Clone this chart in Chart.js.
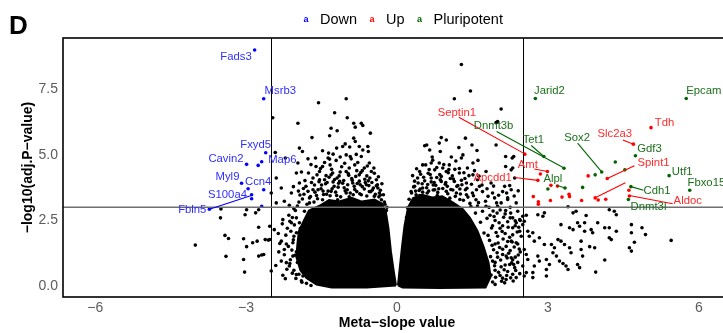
<!DOCTYPE html>
<html>
<head>
<meta charset="utf-8">
<script src="https://cdn.jsdelivr.net/npm/chart.js@4.4.0/dist/chart.umd.min.js"></script>
<style>
html, body { margin: 0; padding: 0; background: #fff; overflow: hidden; }
#wrap { width: 723px; height: 333px; overflow: hidden; }
canvas { display: block; }
</style>
</head>
<body>
<div id="wrap"><canvas id="volcano" width="806" height="333"></canvas></div>
<script>
// Volcano plot: meta-slope vs -log10(adj. P)
const groups = ['Down', 'Up', 'Pluripotent'];
const groupColors = ['#0000ff', '#ff0000', '#006400'];
const textColors = ['#2f2fff', '#ff2a2a', '#1b6f1b'];

const xTicks = [-6, -3, 0, 3, 6];
const yTicks = [0, 2.5, 5, 7.5];
const slopeCut = [-2.5, 2.5];
const pCut = 3;

// labelled genes: [name, slope, -log10 p]
const downGenes = [['Fads3', -2.83, 9.00], ['Msrb3', -2.65, 7.14], ['Fxyd5', -2.61, 5.08], ['Cavin2', -2.99, 4.64],
  ['Map6', -2.69, 4.74], ['Myl9', -3.09, 3.92], ['Ccn4', -2.96, 3.71], ['S100a4', -2.89, 3.48], ['Fbln5', -3.73, 2.93]];
const downOther = [[-2.76, 4.60], [-2.65, 3.67], [-2.89, 3.33], [-2.69, 3.04]];

const upGenes = [['Tdh', 5.05, 6.04], ['Slc2a3', 4.70, 5.41], ['Septin1', 2.54, 5.03], ['Amt', 2.99, 4.37],
  ['Apcdd1', 2.80, 4.03], ['Spint1', 4.18, 4.10], ['Aldoc', 4.62, 3.43]];
const upOther = [[2.85, 4.27], [3.80, 4.20], [3.19, 3.81], [3.06, 3.84], [2.71, 3.41], [2.81, 3.21], [2.81, 3.12],
  [3.05, 3.26], [3.28, 3.39], [3.42, 3.50], [3.43, 3.41], [3.67, 3.26], [3.94, 3.36], [4.00, 3.28], [4.15, 3.31], [4.61, 3.65]];

const pluriGenes = [['Jarid2', 2.75, 7.15], ['Epcam', 5.75, 7.15], ['Tet1', 2.92, 4.94], ['Dnmt3b', 3.32, 4.49],
  ['Sox2', 4.07, 4.35], ['Gdf3', 4.74, 4.97], ['Utf1', 5.41, 4.21], ['Fbxo15', 5.82, 3.65], ['Cdh1', 4.65, 3.79],
  ['Dnmt3l', 4.60, 3.30], ['Alpl', 3.34, 3.74]];
const pluriOther = [[4.34, 4.73], [4.53, 4.43], [3.94, 4.24], [3.69, 3.76], [3.00, 3.70]];

// all other genes
const blackOuterLeft = [[-3.50,2.94],[-3.51,2.60],[-4.01,1.56],[-3.42,1.93],[-3.35,1.81],[-3.40,1.13],[-3.05,1.80],[-2.99,1.50],
  [-3.05,1.01],[-3.03,0.53],[-2.99,2.91],[-3.02,2.72],[-2.81,2.79],[-2.75,2.91],[-2.75,2.24],[-2.87,1.65],[-2.78,1.71],
  [-2.75,1.14],[-2.69,1.18],[-2.65,1.20],[-2.62,1.77],[-2.56,1.75],[-2.53,2.28],[-2.53,1.77]];

const blackLeftLobe = [[-2.47,6.42],[-2.42,5.09],[-2.40,4.12],[-2.30,3.74],[-2.50,3.55],[-2.24,3.23],[-2.40,3.17],[-2.10,3.55],
  [-2.00,4.31],[-1.94,3.93],[-2.44,2.15],[-2.30,1.71],[-2.24,1.39],[-2.20,0.89],[-2.14,0.76],[-2.50,0.57],[-2.00,0.44],
  [-1.87,0.38],[-1.77,0.63],[-2.27,2.53],[-2.10,2.41],[-2.00,2.03],[-2.07,1.65],[-2.07,1.14],[-1.90,1.46],[-1.94,2.41],
  [-1.84,2.85],[-1.74,3.17],[-1.67,3.67],[-1.54,4.05],[-1.48,4.56],[-1.31,4.24],[-1.77,3.61],[-1.97,4.69],[-2.22,4.88],
  [-1.77,4.85],[-1.37,4.88],[-1.56,6.99],[-1.01,7.14],[-1.24,6.61],[-0.99,6.42],[-1.97,6.21],[-1.31,6.02],[-1.19,5.92],
  [-1.69,5.66],[-1.34,5.73],[-0.86,6.21],[-0.83,6.06],[-0.71,6.21],[-0.68,6.12],[-0.53,5.83],[-0.86,5.64],[-0.83,5.51],
  [-1.08,5.32],[-1.03,5.42],[-1.94,5.26],[-1.88,5.13],[-1.48,5.16],[-1.36,5.07],[-1.20,5.26],[-1.13,4.92],[-0.94,5.30],
  [-0.93,4.94],[-0.75,5.32],[-0.68,5.19],[-0.58,5.32],[-0.57,5.13],[-0.71,4.94],[-0.55,4.69],[-1.01,5.00],[-1.34,4.84],
  [-1.61,4.56],[-0.84,4.62],[-0.65,4.50],[-0.51,4.37],[-0.41,4.05],[-1.54,4.37],[-1.28,4.31],[-1.01,4.37],[-0.75,4.24],
  [-1.67,4.12],[-1.44,4.05],[-1.14,3.99],[-0.88,3.93],[-0.61,3.86],[-0.38,3.74],[-1.81,3.80],[-1.57,3.67],[-1.31,3.61],
  [-1.01,3.55],[-0.71,3.48],[-0.45,3.42],[-1.74,3.36],[-1.48,3.29],[-1.18,3.29],[-0.84,3.23],[-0.58,3.17],[-0.31,3.29],
  [-0.28,2.91],[-1.60,3.45],[-1.40,3.50],[-1.20,3.45],[-0.95,3.40],[-0.80,3.60],[-0.55,3.60],[-0.35,3.55],[-1.50,3.85],
  [-1.25,3.80],[-1.05,3.75],[-0.85,3.80],[-0.65,3.70],[-0.50,3.95],[-1.35,4.15],[-1.15,4.20],[-0.90,4.10],[-0.75,4.00],
  [-0.60,4.20],[-1.70,3.95],[-1.85,3.50],[-1.95,3.20],[-1.30,4.45],[-1.10,4.55],[-0.95,4.50],[-0.80,4.40],[-0.45,4.30],
  [-0.30,3.90],[-0.25,3.20],[-0.20,3.00],[-1.65,3.20],[-1.10,3.10],[-0.70,3.00],[-2.05,2.95],[-2.15,2.70],[-2.00,2.60],
  [-1.92,2.20],[-2.18,2.20],[-2.05,1.90],[-2.20,1.60],[-2.00,1.30],[-2.12,1.00],[-1.98,0.90],[-2.05,0.60],[-1.95,0.45],
  [-2.30,0.95],[-2.35,1.30],[-1.90,0.20],[-1.80,0.10]];

const blackLeftEdge = [[-1.88,3.32],[-1.79,3.12],[-1.72,3.41],[-1.63,3.58],[-1.58,3.33],[-1.51,3.71],[-1.46,3.49],[-1.42,3.90],
  [-1.37,3.62],[-1.33,3.44],[-1.27,3.97],[-1.22,3.58],[-1.17,3.77],[-1.12,3.40],[-1.08,3.92],[-1.03,3.63],[-0.98,3.86],
  [-0.93,3.55],[-0.89,4.03],[-0.84,3.68],[-0.79,3.91],[-0.74,3.52],[-0.69,3.79],[-0.64,4.07],[-0.60,3.43],[-0.56,3.83],
  [-0.52,3.60],[-0.47,3.74],[-0.43,3.50],[-0.39,3.86],[-0.36,3.40],[-0.33,3.65],[-0.27,3.48],[-0.24,3.12],[-0.21,2.88],
  [-1.98,3.05],[-1.93,3.47],[-1.86,3.72],[-1.55,3.98],[-1.19,4.12],[-0.96,4.22],[-0.72,4.33],[-0.57,4.01],[-1.41,4.21],
  [-2.02,2.88],[-2.08,2.61],[-2.13,2.47],[-2.04,2.33],[-2.11,2.09],[-2.21,1.94],[-2.06,1.76],[-2.16,1.51],[-2.09,1.37],
  [-2.24,1.19],[-2.03,1.17],[-2.13,0.86],[-2.19,0.64],[-2.08,0.49],[-2.01,0.29],[-1.89,0.14],[-1.71,0.02],[-2.27,0.41],
  [-2.33,1.62],[-2.28,2.37],[-2.36,2.00],[-2.41,0.78],[-2.22,0.28],
  [-1.83,4.02],[-1.76,4.31],[-1.71,4.63],[-1.64,3.85],[-1.59,4.24],[-1.52,4.48],[-1.47,3.62],[-1.44,4.71],[-1.39,3.95],
  [-1.33,4.62],[-1.29,3.71],[-1.24,4.06],[-1.21,4.79],[-1.16,3.92],[-1.13,4.35],[-1.06,4.02],[-1.04,4.68],[-0.99,3.67],
  [-0.97,4.29],[-0.91,4.85],[-0.87,3.48],[-0.82,4.18],[-0.78,4.71],[-0.73,3.86],[-0.69,4.40],[-0.63,3.95],[-0.59,4.58],
  [-0.54,4.12],[-0.49,3.66],[-0.46,4.50],[-0.41,3.82],[-0.37,4.17],[-0.33,3.47],[-1.90,4.35],[-1.96,3.62],[-2.06,3.79],
  [-2.14,3.08],[-1.62,4.88],[-1.27,5.03],[-0.81,5.02]];

const blackRightLobe = [[1.28,8.45],[1.46,7.44],[1.14,7.14],[2.07,6.75],[1.97,6.23],[2.00,6.27],[0.88,5.66],[0.98,5.57],
  [0.55,5.35],[0.59,5.38],[0.65,5.19],[0.86,5.13],[1.36,5.64],[1.49,5.38],[1.59,5.17],[1.23,5.28],[1.97,5.38],[2.16,4.94],
  [2.29,4.88],[2.32,4.94],[1.08,4.92],[1.28,4.88],[1.61,4.79],[0.70,4.92],[0.51,4.62],[0.84,4.69],[1.04,4.62],[0.91,4.50],
  [0.84,5.45],[1.31,5.00],[1.51,4.69],[0.68,4.69],[0.75,4.43],[0.45,4.37],[0.98,4.37],[1.24,4.31],[1.51,4.24],[1.77,4.37],
  [0.41,4.12],[0.68,4.12],[0.88,3.99],[1.14,3.99],[1.38,3.93],[1.64,3.80],[1.87,3.93],[1.94,3.36],[1.81,3.42],[1.57,3.29],
  [1.38,3.48],[1.18,3.55],[0.98,3.61],[0.75,3.67],[0.51,3.74],[0.35,3.80],[0.38,3.48],[0.65,3.29],[2.00,3.04],[1.77,3.04],
  [0.30,3.20],[0.45,3.45],[0.60,3.55],[0.80,3.45],[1.05,3.35],[1.25,3.30],[1.45,3.15],[1.60,3.05],[1.70,2.85],[1.85,2.70],
  [1.95,2.50],[2.05,2.20],[1.90,2.30],[2.00,1.90],[1.95,1.60],[2.10,1.40],[2.00,1.10],[2.15,0.80],[1.95,0.60],[2.05,0.40],
  [1.90,0.15],[2.20,1.70],[2.25,2.60],[2.30,1.00],[0.50,3.90],[0.72,3.85],[1.00,3.80],[1.25,3.70],[1.50,3.55],[1.70,3.60],
  [0.62,4.30],[0.85,4.25],[1.10,4.20],[1.35,4.10],[1.60,4.05],[2.10,3.60],[2.20,3.30],[2.25,3.00],[0.28,3.60],[0.35,4.00],
  [1.15,4.45],[1.40,4.50],[2.16,4.56],[2.27,4.43],[2.30,4.50],[2.34,4.12],[2.14,3.80],[2.27,3.67],
  [2.20,3.36],[1.90,3.55],[2.07,3.17],[2.37,3.17],[2.44,2.53],[2.05,2.90],[2.15,2.75],[2.20,2.45],[2.10,2.30],[2.30,2.60],
  [2.40,2.85],[2.35,2.30],[2.15,2.00],[2.30,1.95],[2.40,1.60],[2.25,1.35],[2.10,1.20],[2.35,1.10],[2.20,0.55],[2.30,0.45],
  [2.40,0.90],[2.10,0.30],[1.95,0.90],[2.45,2.50],[2.45,1.30]];

const blackRightEdge = [[0.24,3.31],[0.29,3.55],[0.33,3.78],[0.37,3.62],[0.42,3.93],[0.46,3.70],[0.51,3.58],[0.55,4.01],
  [0.59,3.75],[0.63,3.62],[0.68,3.97],[0.72,3.66],[0.77,3.84],[0.81,3.57],[0.86,4.05],[0.91,3.72],[0.96,3.88],[1.01,3.52],
  [1.06,4.10],[1.11,3.66],[1.16,3.42],[1.21,3.83],[1.26,3.51],[1.32,3.27],[1.36,3.67],[1.41,3.39],[1.47,3.03],[1.52,3.44],
  [1.56,2.78],[1.62,3.18],[0.21,2.98],[0.19,2.61],[0.47,4.26],[0.79,4.14],[1.02,4.32],[1.28,4.03],[0.64,4.44],
  [1.66,2.43],[1.73,2.02],[1.79,2.58],[1.84,1.74],[1.88,2.21],[1.92,1.38],[1.97,2.04],[2.01,1.64],[1.86,1.12],[1.94,0.77],
  [1.99,1.27],[2.06,0.99],[2.11,1.79],[2.17,1.51],[2.02,0.52],[2.08,0.18],[1.96,0.33],[2.13,0.62],[2.19,1.07],[2.24,1.86],
  [2.28,0.88],[2.33,1.49],[2.36,0.59],[2.41,1.18],[2.21,2.24],[2.26,2.78],[2.31,0.19],[2.39,2.06],[1.91,2.86],[1.98,3.17],
  [1.76,3.23],[2.12,2.62],[1.87,0.42],[1.95,0.06],[2.14,0.12],[2.26,0.31],[2.44,0.47],[2.03,2.41],[1.83,3.00],
  [0.31,4.21],[0.39,4.47],[0.44,3.64],[0.53,4.15],[0.57,4.62],[0.61,3.87],[0.66,4.25],[0.71,4.80],[0.74,3.95],[0.79,4.52],
  [0.83,3.71],[0.88,4.18],[0.93,4.63],[0.97,3.95],[1.03,4.44],[1.07,3.68],[1.12,4.08],[1.17,4.77],[1.19,3.80],[1.24,4.48],
  [1.29,3.86],[1.33,4.32],[1.39,3.73],[1.43,4.21],[1.48,3.88],[1.54,4.40],[1.58,3.67],[1.63,4.19],[1.69,3.85],
  [1.79,3.71],[1.92,3.81],[2.02,3.46],[2.18,3.55],[2.24,3.83],[2.33,3.43],[2.41,3.63],
  [1.81,1.93],[1.89,1.55],[1.93,2.65],[2.04,1.47],[2.09,2.08],[2.16,2.88],[2.22,1.25],[2.29,1.68],[2.35,2.49],[2.42,2.24],
  [1.90,0.95],[2.07,0.73],[2.18,0.40],[2.32,0.82],[2.43,1.41],[1.99,2.78]];

const blackOuterRight = [[3.40,3.02],[3.50,2.79],[3.56,2.85],[3.76,2.69],[4.22,2.91],[4.32,2.85],[4.36,2.72],[2.57,2.70],
  [2.53,2.47],[2.80,2.72],[2.90,2.66],[2.93,2.79],[3.26,2.34],[3.43,2.22],[3.50,2.15],[3.63,2.28],[3.73,2.09],[3.86,2.15],
  [3.89,2.03],[3.99,2.41],[4.13,2.22],[4.22,2.22],[4.22,1.84],[4.26,1.77],[4.36,2.09],[4.66,2.34],[4.66,2.03],[4.87,2.22],
  [4.94,1.96],[4.72,1.67],[4.62,1.46],[4.66,1.33],[5.45,1.74],[4.13,0.99],[3.95,0.53],[2.60,2.09],[2.63,1.90],[2.70,2.03],
  [2.83,1.84],[2.73,1.71],[2.93,1.58],[3.07,1.58],[3.13,1.46],[3.20,1.77],[3.26,1.71],[3.33,1.58],[3.43,1.46],[3.46,1.27],
  [3.66,1.39],[3.69,1.14],[3.83,1.50],[3.10,1.27],[3.17,1.14],[2.80,1.14],[2.83,0.95],[2.57,1.20],[2.60,1.01],[2.97,1.01],
  [3.03,0.82],[3.23,0.95],[3.30,0.86],[3.36,0.76],[3.59,0.82],[3.63,0.70],[3.40,0.63],[2.97,0.63],[2.73,0.76],[2.70,0.51],
  [2.53,0.38],[2.70,0.32],[2.97,0.38],[2.37,2.41],[2.30,2.22],[2.44,2.09],[2.27,1.71],[2.37,1.65],[2.17,1.14],[2.27,1.08],
  [2.24,0.82],[2.34,0.70],[2.37,0.32],[2.17,0.25],[3.59,2.41],[3.66,1.71],[3.93,1.46],[2.50,2.66],[2.50,2.34],[2.47,1.90],
  [2.53,1.39],[2.50,0.76],[2.57,0.51],[3.73,2.41]];

// outline of the saturated bulk of points on each side of zero
const coreLeft = [[-0.02,0.02],[-0.06,0.50],[-0.12,1.30],[-0.17,2.20],[-0.22,2.80],[-0.30,3.15],[-0.45,3.30],[-0.70,3.22],
  [-0.90,3.36],[-1.15,3.22],[-1.35,3.28],[-1.55,3.05],[-1.75,2.88],[-1.85,2.50],[-1.95,2.10],[-1.98,1.60],[-2.00,1.10],
  [-1.92,0.60],[-1.80,0.30],[-1.60,0.05],[-1.30,-0.06],[-0.60,-0.06],[-0.02,0.02]];
const coreRight = [[0.02,0.02],[0.05,0.60],[0.10,1.50],[0.15,2.30],[0.22,3.00],[0.32,3.35],[0.50,3.48],[0.70,3.38],
  [0.90,3.42],[1.10,3.20],[1.30,2.95],[1.45,2.60],[1.60,2.10],[1.72,1.50],[1.82,0.90],[1.86,0.35],[1.76,-0.06],
  [0.84,-0.08],[0.11,-0.06],[0.02,0.02]];

// label placement (text centre) and leader segments, in data units
const labelSpots = {
  Fads3: [-3.20, 8.74], Msrb3: [-2.32, 7.44], Fxyd5: [-2.81, 5.38], Cavin2: [-3.40, 4.85], Map6: [-2.28, 4.82],
  Myl9: [-3.37, 4.17], Ccn4: [-2.76, 3.99], S100a4: [-3.37, 3.46], Fbln5: [-4.07, 2.91],
  Tdh: [5.32, 6.22], Slc2a3: [4.33, 5.80], Septin1: [1.19, 6.61], Amt: [2.60, 4.62], Apcdd1: [1.90, 4.14],
  Spint1: [5.10, 4.71], Aldoc: [5.78, 3.23],
  Jarid2: [3.03, 7.44], Epcam: [6.10, 7.44], Dnmt3b: [1.92, 6.12], Tet1: [2.71, 5.57], Sox2: [3.58, 5.64],
  Gdf3: [5.02, 5.23], Utf1: [5.67, 4.37], Fbxo15: [6.15, 3.95], Cdh1: [5.17, 3.61], Dnmt3l: [5.00, 3.02], Alpl: [3.10, 4.09]
};
const downLeaders = [[-3.73, 2.93, -2.91, 3.44]];
const upLeaders = [[1.23, 6.44, 2.54, 5.04], [4.49, 5.57, 4.70, 5.41], [2.73, 4.46, 2.99, 4.37], [2.34, 4.14, 2.80, 4.03],
  [4.72, 4.59, 4.18, 4.10], [4.54, 3.94, 3.93, 3.36], [5.48, 3.14, 4.62, 3.45]];
const pluriLeaders = [[1.98, 5.89, 3.33, 4.49], [2.67, 5.36, 2.92, 4.94], [3.59, 5.45, 4.07, 4.35], [4.90, 3.65, 4.65, 3.79],
  [3.17, 3.84, 3.34, 3.74]];

const FONT = '"Liberation Sans", Arial, Helvetica, sans-serif';
const toPts = arr => arr.map(p => ({ x: p[p.length - 2], y: p[p.length - 1] }));

const geneSets = [downGenes.concat(downOther), upGenes.concat(upOther), pluriGenes.concat(pluriOther)];
const labelSets = [downGenes, upGenes, pluriGenes];
const leaderSets = [downLeaders, upLeaders, pluriLeaders];

const datasets = [];
geneSets.forEach((set, i) => {
  datasets.push({ label: groups[i], data: toPts(set), backgroundColor: groupColors[i], borderWidth: 0, pointRadius: 1.8 });
});
datasets.push({ label: 'other',
  data: toPts([].concat(blackOuterLeft, blackLeftLobe, blackLeftEdge, blackRightLobe, blackRightEdge, blackOuterRight)),
  backgroundColor: '#000', borderWidth: 0, pointRadius: 1.8 });
[coreLeft, coreRight].forEach(core => {
  datasets.push({ label: 'bulk', data: toPts(core), showLine: true, fill: 'shape', backgroundColor: '#000',
    borderColor: '#000', borderWidth: 2, pointRadius: 0, tension: 0 });
});

const decor = {
  id: 'decor',
  afterDatasetsDraw(chart) {
    const { ctx, chartArea: a, scales: { x, y } } = chart;
    ctx.save();
    ctx.beginPath();
    ctx.rect(a.left, a.top, a.right - a.left, a.bottom - a.top);
    ctx.clip();
    // cut-off lines
    ctx.strokeStyle = '#000';
    ctx.lineWidth = 1;
    slopeCut.forEach(v => {
      const px = Math.round(x.getPixelForValue(v)) + 0.5;
      ctx.beginPath(); ctx.moveTo(px, a.top); ctx.lineTo(px, a.bottom); ctx.stroke();
    });
    ctx.strokeStyle = '#6e6e6e';
    ctx.lineWidth = 1.5;
    const py = y.getPixelForValue(pCut);
    ctx.beginPath(); ctx.moveTo(a.left, py); ctx.lineTo(a.right, py); ctx.stroke();
    ctx.restore();

    ctx.save();
    // leader segments
    ctx.lineWidth = 1.1;
    leaderSets.forEach((set, i) => {
      ctx.strokeStyle = groupColors[i];
      set.forEach(s => {
        ctx.beginPath();
        ctx.moveTo(x.getPixelForValue(s[0]), y.getPixelForValue(s[1]));
        ctx.lineTo(x.getPixelForValue(s[2]), y.getPixelForValue(s[3]));
        ctx.stroke();
      });
    });
    // gene labels
    ctx.font = '11.3px ' + FONT;
    ctx.textAlign = 'center';
    ctx.textBaseline = 'middle';
    labelSets.forEach((set, i) => {
      ctx.fillStyle = textColors[i];
      set.forEach(g => {
        const spot = labelSpots[g[0]];
        ctx.fillText(g[0], x.getPixelForValue(spot[0]), y.getPixelForValue(spot[1]));
      });
    });
    // panel border
    ctx.strokeStyle = '#000';
    ctx.lineWidth = 1.6;
    ctx.strokeRect(a.left, a.top, a.right - a.left, a.bottom - a.top);
    ctx.restore();
  },
  afterDraw(chart) {
    const ctx = chart.ctx;
    ctx.save();
    ctx.fillStyle = '#000';
    ctx.font = 'bold 26px ' + FONT;
    ctx.textAlign = 'left';
    ctx.textBaseline = 'alphabetic';
    ctx.fillText('D', 9, 34);
    // legend
    let lx = 306;
    groups.forEach((g, i) => {
      ctx.font = 'bold 9px ' + FONT;
      ctx.fillStyle = groupColors[i];
      ctx.textAlign = 'center';
      ctx.fillText('a', lx, 22);
      ctx.font = '14.5px ' + FONT;
      ctx.fillStyle = '#000';
      ctx.textAlign = 'left';
      ctx.fillText(g, lx + 14, 24);
      lx += 14 + ctx.measureText(g).width + 15;
    });
    ctx.restore();
  }
};

new Chart(document.getElementById('volcano'), {
  type: 'scatter',
  data: { datasets: datasets },
  options: {
    responsive: false,
    animation: false,
    events: [],
    layout: { padding: { top: 38, right: 75, bottom: 0, left: 0 } },
    plugins: { legend: { display: false }, tooltip: { enabled: false } },
    scales: {
      x: {
        type: 'linear', min: -6.64, max: 6.64,
        afterFit: s => { s.height = 36; },
        afterBuildTicks: s => { s.ticks = xTicks.map(v => ({ value: v })); },
        grid: { display: false, drawTicks: false },
        border: { display: false },
        ticks: { color: '#5c5c5c', font: { family: FONT, size: 14 }, padding: 3,
          callback: v => (v < 0 ? '\u2212' + Math.abs(v) : String(v)) },
        title: { display: true, text: 'Meta\u2212slope value', color: '#000',
          font: { family: FONT, size: 14, weight: 'bold' }, padding: { top: 0, bottom: 1 } }
      },
      y: {
        type: 'linear', min: -0.42, max: 9.46,
        afterFit: s => { s.width = 63; },
        afterBuildTicks: s => { s.ticks = yTicks.map(v => ({ value: v })); },
        grid: { display: false, drawTicks: false },
        border: { display: false },
        ticks: { color: '#5c5c5c', font: { family: FONT, size: 14 }, padding: 5,
          callback: v => v.toFixed(1) },
        title: { display: true, text: '\u2212log10(adj.P\u2212value)', color: '#000',
          font: { family: FONT, size: 14, weight: 'bold' }, padding: { top: 19.5, bottom: 0 } }
      }
    }
  },
  plugins: [decor]
});
</script>
</body>
</html>
